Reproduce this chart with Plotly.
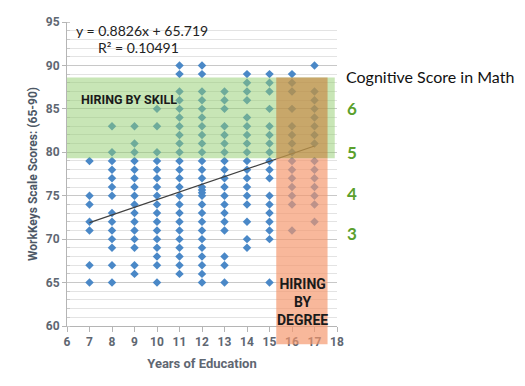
import plotly.graph_objects as go

# ---- data ----
years = [7, 8, 9, 10, 11, 12, 13, 14, 15, 16, 17]
scores_7 = [65, 67, 71, 72, 74, 75, 79]
scores_8 = [65, 67, 69, 70, 71, 72, 73, 75, 76, 77, 78, 79, 80, 83]
scores_9 = [66, 67, 69, 70, 71, 72, 73, 74, 75, 76, 77, 78, 79, 80, 81, 83]
scores_10 = [65, 67, 68, 69, 70, 71, 72, 73, 74, 75, 76, 77, 78, 79, 80, 83, 85]
scores_11 = [66, 67, 68, 69, 70, 71, 72, 73, 74, 75, 76, 77, 78, 79, 80, 81, 82, 83, 84, 85, 86, 87, 89, 90]
scores_12 = [65, 66, 67, 68, 69, 70, 71, 72, 73, 74, 75, 75.35, 75.65, 76, 77, 78, 79, 80, 81, 82, 83, 84, 85, 86, 87, 89, 90]
scores_13 = [65, 67, 68, 71, 72, 73, 74, 75, 76, 77, 78, 79, 80, 81, 82, 83, 85, 86, 87]
scores_14 = [69, 70, 72, 74, 75, 76, 77, 78, 79, 80, 81, 82, 83, 84, 86, 87, 88, 89]
scores_15 = [65, 70, 71, 72, 73, 74, 75, 77, 78, 79, 80, 81, 82, 83, 85, 87, 88, 89]
scores_16 = [71, 74, 75, 76, 77, 78, 79, 80, 81, 82, 83, 85, 87, 88, 89]
scores_17 = [72, 74, 75, 76, 77, 78, 79, 81, 82, 83, 84, 85, 86, 87, 90]
columns = [scores_7, scores_8, scores_9, scores_10, scores_11, scores_12,
           scores_13, scores_14, scores_15, scores_16, scores_17]

slope = 0.8826
intercept = 65.719
r_squared = 0.10491

x_ticks = [6, 7, 8, 9, 10, 11, 12, 13, 14, 15, 16, 17, 18]
y_ticks = [60, 65, 70, 75, 80, 85, 90, 95]
math_levels = ["6", "5", "4", "3"]
math_level_y = [85, 80, 75.3, 70.6]

xs, ys = [], []
for yr, col in zip(years, columns):
    xs += [yr] * len(col)
    ys += col

narrow = "Roboto, Liberation Sans, sans-serif"
plain = "Lato, Liberation Sans, sans-serif"
axis_grey = "#5f6772"

fig = go.Figure()
fig.add_trace(go.Scatter(
    x=xs, y=ys, mode="markers",
    marker=dict(symbol="diamond", size=6.5, color="#4a88c7"),
    hoverinfo="skip", showlegend=False))

trend_x = [years[0], years[-1]]
trend_y = [slope * v + intercept for v in trend_x]
fig.add_trace(go.Scatter(
    x=trend_x, y=trend_y, mode="lines",
    line=dict(color="#404040", width=1.2),
    hoverinfo="skip", showlegend=False))

# Highlight zones
fig.add_shape(type="rect", xref="x", yref="y", x0=6, x1=17.9, y0=79.3, y1=88.6,
              fillcolor="rgba(146,205,110,0.5)", line_width=0, layer="above")
fig.add_shape(type="rect", xref="x", yref="paper", x0=15.3, x1=17.58,
              y0=-0.06, y1=(79.3 - 60) / 35,
              fillcolor="rgba(245,150,108,0.68)", line_width=0, layer="above")
fig.add_shape(type="rect", xref="x", yref="y", x0=15.3, x1=17.58, y0=79.3, y1=88.6,
              fillcolor="rgba(200,128,60,0.62)", line_width=0, layer="above")

fig.add_annotation(x=6.3, y=94.0, xref="x", yref="y", xanchor="left",
                   text=f"y = {slope}x + {intercept}", showarrow=False,
                   font=dict(family=plain, size=14, color="#222"))
fig.add_annotation(x=7.3, y=92.1, xref="x", yref="y", xanchor="left",
                   text=f"R² = {r_squared}", showarrow=False,
                   font=dict(family=plain, size=14, color="#222"))
fig.add_annotation(x=6.55, y=86.1, xref="x", yref="y", xanchor="left",
                   text="<b>HIRING BY SKILL</b>", showarrow=False,
                   font=dict(family=narrow, size=12.5, color="#1a1a1a"))
fig.add_annotation(x=16.45, y=62.8, xref="x", yref="y", xanchor="center", yanchor="middle",
                   text="<b>HIRING<br>BY<br>DEGREE</b>", showarrow=False,
                   font=dict(family=narrow, size=14, color="#1a1a1a"))

fig.add_annotation(x=1.025, y=(88.7 - 60) / 35, xref="paper", yref="paper",
                   xanchor="left", yanchor="middle",
                   text="Cognitive Score in Math", showarrow=False,
                   font=dict(family=plain, size=16, color="#111"))
for lbl, yv in zip(math_levels, math_level_y):
    fig.add_annotation(x=1.03, y=(yv - 60) / 35, xref="paper", yref="paper",
                       xanchor="left", yanchor="middle", text=f"<b>{lbl}</b>",
                       showarrow=False,
                       font=dict(family=plain, size=17, color="#5aa02c"))

fig.update_layout(
    width=525, height=386,
    margin=dict(l=67, r=188, t=22, b=60, autoexpand=False),
    paper_bgcolor="white", plot_bgcolor="white",
    xaxis=dict(range=[6, 18], tickvals=x_ticks, ticktext=[str(v) for v in x_ticks],
               showgrid=False, zeroline=False, automargin=False,
               showline=True, linecolor="#b5b5b5", linewidth=1,
               ticks="outside", ticklen=5, tickcolor="#b5b5b5",
               tickfont=dict(family=narrow, size=12, color=axis_grey, weight="bold"),
               title=dict(text="<b>Years of Education</b>", standoff=10,
                          font=dict(family=narrow, size=13, color=axis_grey))),
    yaxis=dict(range=[60, 95], tickvals=y_ticks,
               showgrid=True, gridcolor="#c8c8c8", gridwidth=1, zeroline=False,
               automargin=False,
               showline=True, linecolor="#b5b5b5", linewidth=1,
               ticks="outside", ticklen=4, tickcolor="#b5b5b5",
               minor=dict(dtick=1, showgrid=True, gridcolor="#e3e3e3", gridwidth=1,
                          ticks="inside", ticklen=3, tickcolor="#c8c8c8"),
               tickfont=dict(family=narrow, size=12, color=axis_grey, weight="bold"),
               title=dict(text="<b>WorkKeys Scale Scores: (65-90)</b>", standoff=5,
                          font=dict(family=narrow, size=12, color="#4d5866"))),
)

fig.write_html("out.html", config={"displayModeBar": False},
               post_script="document.body.style.margin='0';")
